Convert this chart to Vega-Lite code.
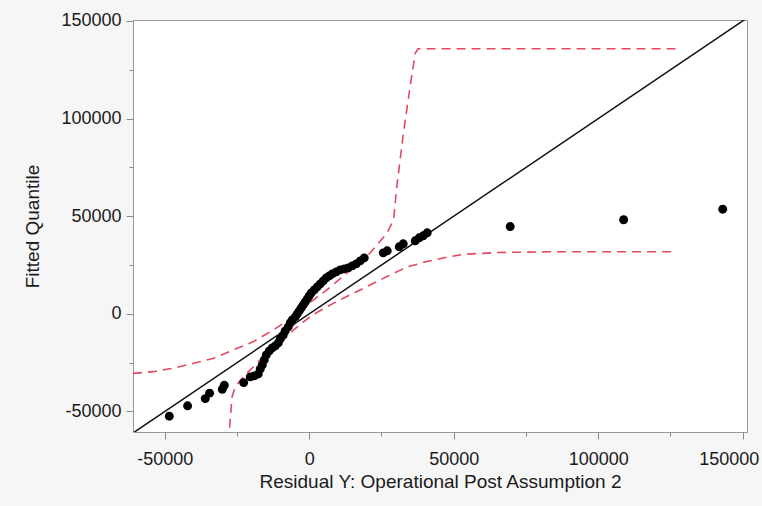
{
  "$schema": "https://vega.github.io/schema/vega-lite/v6.json",
  "width": 614,
  "height": 412,
  "autosize": {"type": "none"},
  "padding": {"left": 133, "top": 20, "right": 15, "bottom": 74},
  "background": "#f6f6f6",
  "config": {
    "view": {"fill": "#ffffff", "stroke": "#9a9a9a", "strokeWidth": 1},
    "font": "Liberation Sans",
    "axis": {
      "labelFont": "Liberation Sans",
      "titleFont": "Liberation Sans",
      "labelFontSize": 18,
      "titleFontSize": 19,
      "titleFontWeight": "normal",
      "labelColor": "#1a1a1a",
      "titleColor": "#1a1a1a",
      "tickColor": "#8a8a8a",
      "domain": false,
      "grid": false
    }
  },
  "layer": [
    {
      "data": {"values": [
        {"band": "a", "o": 1, "x": -61000, "y": -30500},
        {"band": "a", "o": 2, "x": -53900, "y": -29600},
        {"band": "a", "o": 3, "x": -47000, "y": -27800},
        {"band": "a", "o": 4, "x": -40000, "y": -25300},
        {"band": "a", "o": 5, "x": -33100, "y": -22700},
        {"band": "a", "o": 6, "x": -26200, "y": -18400},
        {"band": "a", "o": 7, "x": -19300, "y": -14200},
        {"band": "a", "o": 8, "x": -12400, "y": -8200},
        {"band": "a", "o": 9, "x": -5400, "y": -1400},
        {"band": "a", "o": 10, "x": -800, "y": 4600},
        {"band": "a", "o": 11, "x": 6100, "y": 12300},
        {"band": "a", "o": 12, "x": 13000, "y": 20800},
        {"band": "a", "o": 13, "x": 20000, "y": 29400},
        {"band": "a", "o": 14, "x": 26900, "y": 41300},
        {"band": "a", "o": 15, "x": 29200, "y": 48200},
        {"band": "a", "o": 16, "x": 30300, "y": 65200},
        {"band": "a", "o": 17, "x": 32600, "y": 92600},
        {"band": "a", "o": 18, "x": 34900, "y": 116400},
        {"band": "a", "o": 19, "x": 36700, "y": 133600},
        {"band": "a", "o": 20, "x": 37700, "y": 135800},
        {"band": "a", "o": 21, "x": 128400, "y": 135800},
        {"band": "b", "o": 1, "x": -27900, "y": -66000},
        {"band": "b", "o": 2, "x": -27300, "y": -52600},
        {"band": "b", "o": 3, "x": -26700, "y": -42400},
        {"band": "b", "o": 4, "x": -25600, "y": -37200},
        {"band": "b", "o": 5, "x": -22700, "y": -32100},
        {"band": "b", "o": 6, "x": -17000, "y": -23600},
        {"band": "b", "o": 7, "x": -11200, "y": -16800},
        {"band": "b", "o": 8, "x": -5400, "y": -8200},
        {"band": "b", "o": 9, "x": 300, "y": -1400},
        {"band": "b", "o": 10, "x": 6100, "y": 3700},
        {"band": "b", "o": 11, "x": 13000, "y": 8900},
        {"band": "b", "o": 12, "x": 20000, "y": 14000},
        {"band": "b", "o": 13, "x": 26900, "y": 19100},
        {"band": "b", "o": 14, "x": 33800, "y": 24000},
        {"band": "b", "o": 15, "x": 40700, "y": 26800},
        {"band": "b", "o": 16, "x": 47600, "y": 29000},
        {"band": "b", "o": 17, "x": 53400, "y": 30500},
        {"band": "b", "o": 18, "x": 65000, "y": 31400},
        {"band": "b", "o": 19, "x": 82200, "y": 31800},
        {"band": "b", "o": 20, "x": 105300, "y": 31800},
        {"band": "b", "o": 21, "x": 126100, "y": 31800}
      ]},
      "mark": {"type": "line", "clip": true, "color": "#e4485f", "strokeWidth": 1.6, "strokeDash": [9, 6]},
      "encoding": {
        "x": {"field": "x", "type": "quantitative", "scale": {"domain": [-61000, 151500], "nice": false, "zero": false},
          "axis": {"title": "Residual Y: Operational Post Assumption 2", "values": [-50000, -25000, 0, 25000, 50000, 75000, 100000, 125000, 150000],
            "labelExpr": "datum.value % 50000 === 0 ? '' + datum.value : ''",
            "tickSize": {"condition": {"test": "datum.value % 50000 === 0", "value": 7}, "value": 4},
            "labelOffset": {"condition": {"test": "datum.value === 150000", "value": -14}, "value": 0},
            "labelPadding": 11, "titlePadding": 4}},
        "y": {"field": "y", "type": "quantitative", "scale": {"domain": [-60500, 150500], "nice": false, "zero": false},
          "axis": {"title": "Fitted Quantile", "values": [-50000, -25000, 0, 25000, 50000, 75000, 100000, 125000, 150000],
            "labelExpr": "datum.value % 50000 === 0 ? '' + datum.value : ''",
            "tickSize": {"condition": {"test": "datum.value % 50000 === 0", "value": 7}, "value": 4},
            "labelPadding": 5, "titlePadding": 18}},
        "detail": {"field": "band"},
        "order": {"field": "o", "type": "quantitative"}
      }
    },
    {
      "data": {"values": [
        {"x": -61000, "y": -61000},
        {"x": 151500, "y": 151500}
      ]},
      "mark": {"type": "line", "clip": true, "color": "#111111", "strokeWidth": 1.5},
      "encoding": {
        "x": {"field": "x", "type": "quantitative"},
        "y": {"field": "y", "type": "quantitative"}
      }
    },
    {
      "data": {"values": [
        {"x": -48440, "y": -52400},
        {"x": -42100, "y": -47100},
        {"x": -36000, "y": -43400},
        {"x": -34500, "y": -40600},
        {"x": -30100, "y": -38600},
        {"x": -29400, "y": -36600},
        {"x": -22700, "y": -35200},
        {"x": -20415, "y": -32275},
        {"x": -19031, "y": -31763},
        {"x": -17647, "y": -30747},
        {"x": -16955, "y": -28177},
        {"x": -16263, "y": -26127},
        {"x": -15571, "y": -23566},
        {"x": -14879, "y": -21004},
        {"x": -13841, "y": -18955},
        {"x": -12803, "y": -17418},
        {"x": -11765, "y": -16394},
        {"x": -10726, "y": -14857},
        {"x": -10034, "y": -12808},
        {"x": -8996, "y": -10758},
        {"x": -8304, "y": -8709},
        {"x": -7266, "y": -6660},
        {"x": -6574, "y": -4611},
        {"x": -5882, "y": -3074},
        {"x": -4844, "y": -1537},
        {"x": -4152, "y": 0},
        {"x": -3460, "y": 1537},
        {"x": -2768, "y": 3074},
        {"x": -2076, "y": 4611},
        {"x": -1384, "y": 6148},
        {"x": -692, "y": 7685},
        {"x": 0, "y": 9221},
        {"x": 692, "y": 10758},
        {"x": 1730, "y": 12295},
        {"x": 2768, "y": 13832},
        {"x": 3806, "y": 15369},
        {"x": 4844, "y": 16906},
        {"x": 5882, "y": 18443},
        {"x": 6920, "y": 19467},
        {"x": 7958, "y": 20492},
        {"x": 9343, "y": 21517},
        {"x": 10727, "y": 22541},
        {"x": 12111, "y": 23054},
        {"x": 13495, "y": 23566},
        {"x": 14879, "y": 24590},
        {"x": 16263, "y": 25615},
        {"x": 17647, "y": 27152},
        {"x": 19031, "y": 28689},
        {"x": 25605, "y": 31250},
        {"x": 26990, "y": 32275},
        {"x": 31142, "y": 34324},
        {"x": 32526, "y": 35861},
        {"x": 36678, "y": 37398},
        {"x": 38062, "y": 38935},
        {"x": 39446, "y": 39960},
        {"x": 40830, "y": 41496},
        {"x": 69550, "y": 44700},
        {"x": 108800, "y": 48200},
        {"x": 143100, "y": 53600}
      ]},
      "mark": {"type": "point", "filled": true, "color": "#000000", "opacity": 1, "size": 80},
      "encoding": {
        "x": {"field": "x", "type": "quantitative"},
        "y": {"field": "y", "type": "quantitative"}
      }
    }
  ]
}
